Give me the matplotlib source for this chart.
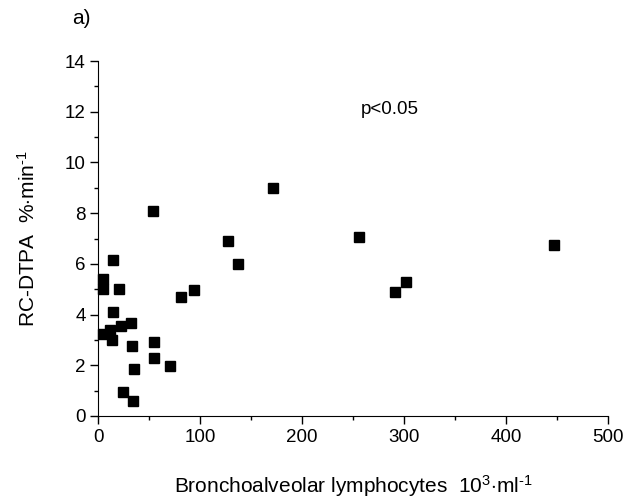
import matplotlib.pyplot as plt
from matplotlib.ticker import MultipleLocator

# Bronchoalveolar lymphocytes (10^3/ml) vs RC-DTPA (%/min)
lymph = [171, 54, 127, 256, 447, 15, 137, 5, 5, 20, 302, 291, 94, 81, 15,
         32, 22, 12, 5, 14, 33, 55, 55, 70, 35, 24, 34]
rc_dtpa = [9.0, 8.1, 6.9, 7.05, 6.75, 6.15, 5.98, 5.42, 5.02, 5.02, 5.28, 4.9,
           4.98, 4.7, 4.1, 3.68, 3.55, 3.4, 3.25, 3.0, 2.75, 2.9, 2.3, 1.97,
           1.85, 0.95, 0.6]

plt.rcParams['font.family'] = ['Liberation Sans', 'DejaVu Sans']
plt.rcParams['mathtext.fontset'] = 'custom'
plt.rcParams['mathtext.rm'] = 'Liberation Sans'
plt.rcParams['mathtext.it'] = 'Liberation Sans'

fig = plt.figure(figsize=(6.29, 5.0), dpi=100)
ax = fig.add_axes([0.156, 0.168, 0.811, 0.71])

ax.plot(lymph, rc_dtpa, 's', color='black', markersize=7.5, clip_on=False)

ax.set_xlim(0, 500)
ax.set_ylim(0, 14)
ax.xaxis.set_major_locator(MultipleLocator(100))
ax.xaxis.set_minor_locator(MultipleLocator(50))
ax.yaxis.set_major_locator(MultipleLocator(2))
ax.yaxis.set_minor_locator(MultipleLocator(1))
ax.tick_params(which='major', direction='out', length=6, width=1, labelsize=13.5, pad=3)
ax.tick_params(which='minor', direction='out', length=3, width=1)

for s in ['top', 'right']:
    ax.spines[s].set_visible(False)

# \text keeps the hyphen instead of a math minus
ax.set_xlabel('Bronchoalveolar lymphocytes  10$^\\mathrm{3}$$\\cdot$ml$^\\text{-1}$',
              fontsize=15, labelpad=20)
ax.set_ylabel('RC-DTPA  %$\\cdot$min$^\\text{-1}$', fontsize=15, labelpad=19)

ax.text(257, 12.07, 'p<0.05', fontsize=13.5, va='center', ha='left')
fig.text(0.13, 0.964, 'a)', fontsize=15, va='center', ha='center')

fig.savefig('out.png', dpi=100)
